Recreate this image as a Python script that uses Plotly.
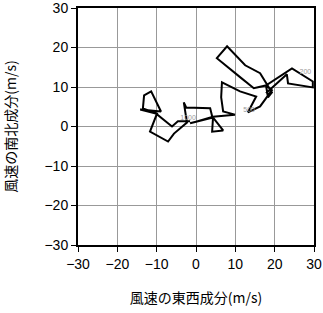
import plotly.graph_objects as go

# hodograph wind components (m/s)
u = [-1.5, -4.6, -6.1, -10.2, -14.2, -8.9, -11.4, -13.2, -13.5, -9.9, -11.7, -7.1, -5.6, -2.3,
     -3.1, -2.5, 3.6, 4.3, 4.1, 6.9, 4.3, -1.5, 4.3, 9.9, 6.9, 6.4, 6.6, 11.2, 15.3, 13.2,
     16.3, 19.3, 17.8, 14.7, 11.2, 5.3, 7.9, 12.5, 16.3, 18.3, 19.3, 18.3, 17.8, 24.4, 29.7,
     29.7, 23.4, 23.1, 17.8]
v = [1.3, 1.3, 0.0, 3.3, 4.3, 3.8, 8.9, 7.9, 4.6, 3.3, -1.3, -3.8, -1.8, 1.0,
     6.1, 4.8, 4.6, 1.8, -1.3, -1.0, 2.3, 0.8, 2.5, 3.0, 3.8, 7.4, 11.2, 8.9, 7.6, 3.6,
     5.1, 9.2, 10.4, 9.7, 12.5, 17.3, 20.3, 15.5, 13.5, 10.4, 8.6, 7.4, 10.4, 14.7, 11.4,
     9.9, 10.9, 13.2, 8.4]
label_text = ["1000", "500", "200"]
label_u = [-2.0, 13.5, 27.8]
label_v = [2.0, 4.0, 13.8]

fig = go.Figure()
fig.add_trace(go.Scatter(x=u, y=v, mode="lines",
                         line=dict(color="black", width=2), showlegend=False))
fig.add_trace(go.Scatter(x=label_u, y=label_v, mode="text", text=label_text,
                         textfont=dict(size=7, color="#999999", family="Liberation Sans"),
                         showlegend=False))

axis_common = dict(range=[-30, 30], dtick=10, tick0=-30, showgrid=True, automargin=False,
                   gridcolor="#999999", gridwidth=1, zeroline=False,
                   showline=True, linecolor="black", linewidth=2, mirror=True,
                   ticks="outside", ticklen=5, tickcolor="black", tickwidth=1,
                   ticklabeloverflow="allow",
                   tickfont=dict(size=14, color="black", family="Liberation Sans"))

fig.update_layout(
    width=323, height=313,
    margin=dict(l=78, r=9, t=8, b=68, autoexpand=False),
    plot_bgcolor="white", paper_bgcolor="white",
    xaxis=dict(**axis_common,
               title=dict(text="風速の東西成分(m/s)", standoff=22,
                          font=dict(size=14, color="black", family="Noto Sans CJK JP"))),
    yaxis=dict(**axis_common,
               title=dict(text="風速の南北成分(m/s)", standoff=26,
                          font=dict(size=14, color="black", family="Noto Sans CJK JP"))),
)
fig.write_html("out.html")
